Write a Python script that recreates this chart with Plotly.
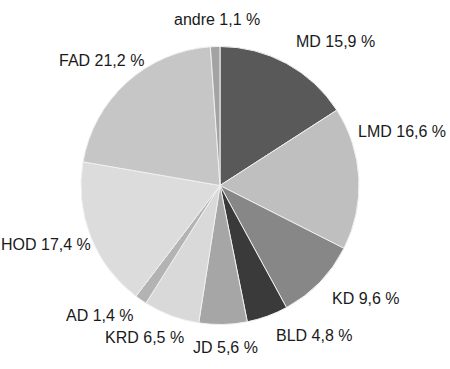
import plotly.graph_objects as go

categories = ["MD", "LMD", "KD", "BLD", "JD", "KRD", "AD", "HOD", "FAD", "andre"]
values = [15.9, 16.6, 9.6, 4.8, 5.6, 6.5, 1.4, 17.4, 21.2, 1.1]
colors = ["#595959", "#bfbfbf", "#878787", "#3a3a3a", "#a6a6a6",
          "#d9d9d9", "#b3b3b3", "#dcdcdc", "#c6c6c6", "#a3a3a3"]
label_texts = [f"{c} {str(v).replace('.', ',')} %" for c, v in zip(categories, values)]

# label centers in pixels (layout)
label_px = [(335, 42), (402, 132), (366, 298), (314, 335), (225, 347),
            (144, 337), (100, 315), (46, 245), (101, 60), (217, 20)]

W, H = 450, 369
cx, cy, r = 220, 185.5, 139

fig = go.Figure(go.Pie(
    labels=categories, values=values, sort=False, direction="clockwise",
    rotation=0, textinfo="none", hoverinfo="label+value",
    marker=dict(colors=colors, line=dict(color="#f0f0f0", width=1)),
    domain=dict(x=[(cx - r) / W, (cx + r) / W], y=[1 - (cy + r) / H, 1 - (cy - r) / H]),
    showlegend=False,
))

for t, (px, py) in zip(label_texts, label_px):
    fig.add_annotation(x=px / W, y=1 - py / H, xref="paper", yref="paper",
                       text=t, showarrow=False, xanchor="center", yanchor="middle",
                       font=dict(family="Arial, Liberation Sans, sans-serif", size=16, color="#1a1a1a"))

fig.update_layout(width=W, height=H, margin=dict(l=0, r=0, t=0, b=0),
                  paper_bgcolor="white", plot_bgcolor="white")
fig.write_html("out.html", config={"displayModeBar": False})

with open("out.html", "r", encoding="utf-8") as f:
    html = f.read()
html = html.replace("<head>", "<head><style>html,body{margin:0;padding:0;overflow:hidden;}</style>", 1)
with open("out.html", "w", encoding="utf-8") as f:
    f.write(html)
